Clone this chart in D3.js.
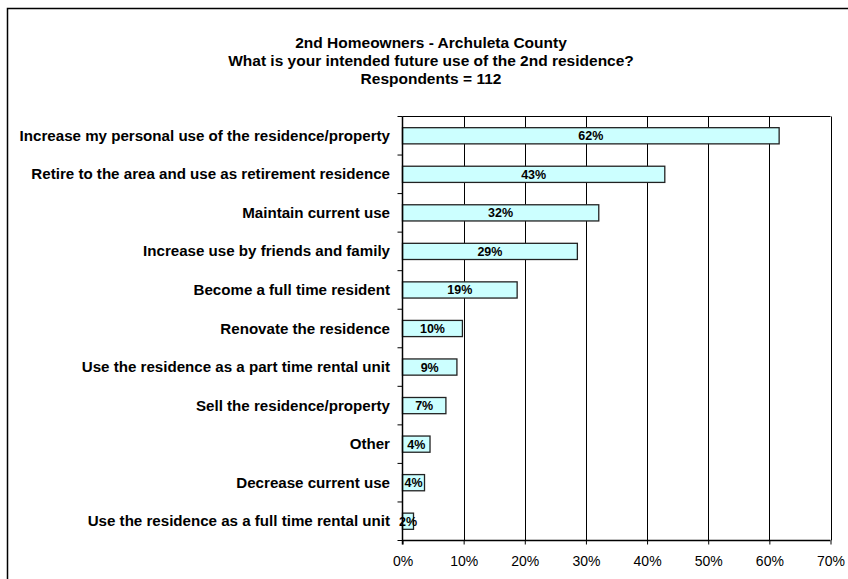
<!DOCTYPE html>
<html><head><meta charset="utf-8">
<script src="https://cdn.jsdelivr.net/npm/d3@7"></script>
<style>body{margin:0;background:#fff;} svg{display:block;}</style>
</head><body>
<svg id="chart" width="848" height="579"></svg>
<script>
const titleLines = ["2nd Homeowners - Archuleta County", "What is your intended future use of the 2nd residence?", "Respondents = 112"];
const categories = [
  "Increase my personal use of the residence/property",
  "Retire to the area and use as retirement residence",
  "Maintain current use",
  "Increase use by friends and family",
  "Become a full time resident",
  "Renovate the residence",
  "Use the residence as a part time rental unit",
  "Sell the residence/property",
  "Other",
  "Decrease current use",
  "Use the residence as a full time rental unit"
];
const values = [0.616, 0.429, 0.321, 0.286, 0.1875, 0.098, 0.089, 0.071, 0.045, 0.036, 0.018];
const valueLabels = ["62%","43%","32%","29%","19%","10%","9%","7%","4%","4%","2%"];
const xTicks = [0, 0.1, 0.2, 0.3, 0.4, 0.5, 0.6, 0.7];

const svg = d3.select("#chart");
const font = "Arial, 'Liberation Sans', sans-serif";

// outer frame
svg.append("rect").attr("x", 7.5).attr("y", 8.5).attr("width", 860).attr("height", 600)
  .attr("fill", "none").attr("stroke", "#000").attr("stroke-width", 1.5);

// title
svg.append("g").selectAll("text").data(titleLines).join("text")
  .attr("x", 431).attr("y", (d, i) => 47.5 + i * 18)
  .attr("text-anchor", "middle").attr("font-family", font)
  .attr("font-weight", "bold").attr("font-size", "15.5px").text(d => d);

const pLeft = 402.5, pRight = 830.5, pTop = 116.5, pBottom = 540.5;
const x = d3.scaleLinear().domain([0, 0.7]).range([pLeft, pRight]);
const y = d3.scaleBand().domain(categories).range([pTop, pBottom]).paddingInner(0.58).paddingOuter(0.29);
const yEdges = d3.scaleLinear().domain([0, categories.length]).range([pTop, pBottom]);

// gridlines
svg.append("g").selectAll("line").data(xTicks.slice(1)).join("line")
  .attr("x1", d => Math.round(x(d)) + 0.5).attr("x2", d => Math.round(x(d)) + 0.5)
  .attr("y1", pTop).attr("y2", pBottom).attr("stroke", "#000").attr("stroke-width", 1);
// top border
svg.append("line").attr("x1", pLeft).attr("x2", pRight).attr("y1", pTop).attr("y2", pTop)
  .attr("stroke", "#000").attr("stroke-width", 1);

// bars
svg.append("g").selectAll("rect").data(categories).join("rect")
  .attr("x", pLeft).attr("y", d => y(d))
  .attr("width", (d, i) => x(values[i]) - pLeft).attr("height", y.bandwidth())
  .attr("fill", "#CCFFFF").attr("stroke", "#222").attr("stroke-width", 1.3);

// value labels
svg.append("g").selectAll("text").data(categories).join("text")
  .attr("x", (d, i) => (pLeft + x(values[i])) / 2)
  .attr("y", d => y(d) + y.bandwidth() / 2 + 4.5)
  .attr("text-anchor", "middle").attr("font-family", font)
  .attr("font-weight", "bold").attr("font-size", "12.5px")
  .text((d, i) => valueLabels[i]);

// x axis
const xAxis = d3.axisBottom(x).tickValues(xTicks).tickFormat(d3.format(".0%")).tickSize(4).tickPadding(12);
const gx = svg.append("g").attr("transform", `translate(0,${pBottom})`).call(xAxis);
gx.select(".domain").attr("stroke", "#000").attr("stroke-width", 1.5).attr("d", `M${pLeft},0H${pRight}`);
gx.selectAll(".tick line").attr("stroke", "#000");
gx.selectAll("text").attr("font-family", font).attr("font-size", "14px").attr("fill", "#000");

// y axis line + ticks at band edges
svg.append("line").attr("x1", pLeft).attr("x2", pLeft).attr("y1", pTop).attr("y2", pBottom + 4)
  .attr("stroke", "#000").attr("stroke-width", 1.5);
svg.append("g").selectAll("line").data(d3.range(categories.length + 1)).join("line")
  .attr("x1", pLeft - 5).attr("x2", pLeft).attr("y1", d => yEdges(d)).attr("y2", d => yEdges(d))
  .attr("stroke", "#000").attr("stroke-width", 1);

// category labels (slightly stretched horizontally like the source)
svg.append("g").selectAll("text").data(categories).join("text")
  .attr("transform", d => `translate(390,${y(d) + y.bandwidth() / 2 + 5}) scale(1.08,1)`)
  .attr("text-anchor", "end").attr("font-family", font)
  .attr("font-weight", "bold").attr("font-size", "14px").text(d => d);
</script>
</body></html>
